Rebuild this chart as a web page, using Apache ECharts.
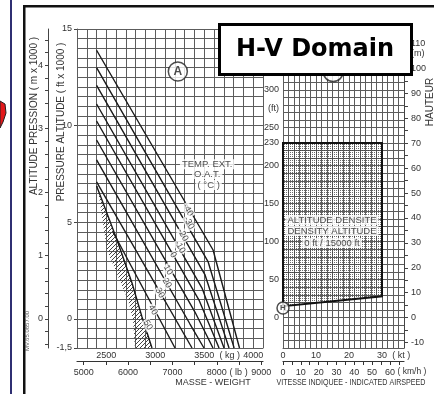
<!DOCTYPE html>
<html>
<head>
<meta charset="utf-8">
<title>H-V Domain</title>
<script src="https://cdn.jsdelivr.net/npm/echarts@6.0.0/dist/echarts.min.js"></script>
<style>
  html, body { margin: 0; padding: 0; background: #fff; }
  #chart { width: 434px; height: 394px; }
</style>
</head>
<body>
<div id="chart"></div>
<script>
// --- chart A : mass (kg) / pressure altitude (ft x 1000), one line per OAT ---
const kgLabels = [2500, 3000, 3500, 4000]
const lbLabels = [5000, 6000, 7000, 8000, 9000]
const lbTicks = [5000, 5500, 6000, 6500, 7000, 7500, 8000, 8500, 9000]
const ftLabelsA = [-1.5, 0, 5, 10, 15]
const mLabelsA = [0, 1, 2, 3, 4]
const mTicksA = [-0.4, -0.2, 0, 0.2, 0.4, 0.6, 0.8, 1, 1.2, 1.4, 1.6, 1.8, 2, 2.2, 2.4, 2.6, 2.8, 3, 3.2, 3.4, 3.6, 3.8, 4, 4.2, 4.4]

const oatNames = ['-40', '-30', '-20', '-10', '0', '10', '20', '30', '40', '50']
const oatM40 = [[2400, 13.9], [3590, 3.57], [3860, -1.5]]
const oatM30 = [[2400, 13.0], [3540, 2.95], [3805, -1.5]]
const oatM20 = [[2400, 12.08], [3508, 2.28], [3753, -1.5]]
const oatM10 = [[2400, 11.12], [3477, 1.6], [3702, -1.5]]
const oat0 = [[2400, 10.24], [3446, 0.98], [3651, -1.5]]
const oat10 = [[2400, 9.26], [3405, 0.36], [3589, -1.5]]
const oat20 = [[2400, 8.23], [3354, -0.26], [3497, -1.5]]
const oat30 = [[2400, 7.09], [3375, -1.5]]
const oat40 = [[2568, 4.5], [3201, -1.5]]
const oat50 = [[2400, 6.88], [2455, 6.16], [2609, 4.09], [2762, 1.86], [2864, 0.1], [2966, -1.5]]
const oatLines = [oatM40, oatM30, oatM20, oatM10, oat0, oat10, oat20, oat30, oat40, oat50]
const oatLabelPos = [[3334, 5.64], [3344, 4.97], [3283, 4.35], [3252, 3.73], [3181, 3.31],
  [3130, 2.54], [3119, 1.86], [3048, 1.35], [2976, 0.47], [2925, -0.31]]
const hatchLeft = [[2400, 7.19], [2506, 3.57], [2721, 0.98], [2772, -0.05], [2792, -1.5]]

const tempText = ['TEMP. EXT.', 'O.A.T.', '( °C )']
const tempPos = [[3530, 8.0], [3530, 7.5], [3545, 6.93]]
const circleA = [3230, 12.8]

// --- chart B : height-velocity diagram ---
const ktLabels = [0, 10, 20, 30]
const kmhLabels = [0, 10, 20, 30, 40, 50, 60]
const kmhTicks = [0, 5, 10, 15, 20, 25, 30, 35, 40, 45, 50, 55, 60, 65]
const ftLabelsB = [0, 50, 100, 150, 200, 230, 250, 300]
const mLabelsB = [-10, 0, 10, 20, 30, 40, 50, 60, 70, 80, 90, 100, 110]
const mTicksB = [-10, -5, 0, 5, 10, 15, 20, 25, 30, 35, 40, 45, 50, 55, 60, 65, 70, 75, 80, 85, 90, 95, 100, 105, 110, 115]
const hvBox = [[0, 230], [30, 230], [30, 28], [0, 15]]
const circleH = [0, 12.6]
const circleB = [15.2, 324]
const densityText = ['ALTITUDE DENSITE', 'DENSITY ALTITUDE', '0 ft / 15000 ft']
const densityPos = [[14.85, 128.4], [14.85, 114], [14.85, 98.2]]

const FONT = 'Liberation Sans, Arial, sans-serif'
const GRID_COLOR = '#5c5c5c'
const TXT = '#333'
const KG_TO_LB = 2.20462
const M_PER_FT = 0.3048
const KT_TO_KMH = 1.852

function hatchPattern() {
  const c = document.createElement('canvas')
  c.width = 4
  c.height = 4
  const ctx = c.getContext('2d')
  ctx.strokeStyle = '#444'
  ctx.lineWidth = 1
  ctx.beginPath()
  ctx.moveTo(0, 4); ctx.lineTo(4, 0)
  ctx.moveTo(-1, 1); ctx.lineTo(1, -1)
  ctx.moveTo(3, 5); ctx.lineTo(5, 3)
  ctx.stroke()
  return c
}

function dotPattern() {
  const c = document.createElement('canvas')
  c.width = 2
  c.height = 2
  const ctx = c.getContext('2d')
  ctx.fillStyle = 'rgba(60,60,60,0.75)'
  ctx.fillRect(0, 0, 1, 1)
  return c
}

function polygonItem(points, fill, stroke, lw) {
  return function (params, api) {
    return {
      type: 'polygon',
      shape: { points: points.map(p => api.coord(p)) },
      style: { fill: fill, stroke: stroke, lineWidth: lw }
    }
  }
}

function textLabels(names, pos, xi, yi, extra) {
  return {
    type: 'scatter', xAxisIndex: xi, yAxisIndex: yi, silent: true, z: 6,
    symbolSize: 1, itemStyle: { color: 'rgba(0,0,0,0)' },
    data: names.map((n, i) => ({ name: n, value: pos[i] })),
    label: Object.assign({
      show: true, position: 'inside', formatter: '{b}', fontSize: 9,
      fontFamily: FONT, color: '#222', backgroundColor: '#fff'
    }, extra)
  }
}

function circleMark(xi, yi, pt, size, txt, fs) {
  return {
    type: 'scatter', xAxisIndex: xi, yAxisIndex: yi, silent: true, z: 5,
    symbol: 'circle', symbolSize: size,
    itemStyle: { color: '#fff', borderColor: '#222', borderWidth: 1.5 },
    data: [pt],
    label: { show: true, position: 'inside', formatter: txt, fontSize: fs, fontWeight: 'bold', color: '#222', fontFamily: FONT }
  }
}

const chart = echarts.init(document.getElementById('chart'))
const hatch = { image: hatchPattern(), repeat: 'repeat' }
const dots = { image: dotPattern(), repeat: 'repeat' }
const lbl = { color: TXT, fontSize: 9, fontFamily: FONT }

const option = {
  animation: false,
  backgroundColor: '#fff',
  grid: [
    { left: 77, top: 29, width: 186, height: 319, outerBoundsMode: 'none' },
    { left: 283, top: 29, width: 121, height: 319, outerBoundsMode: 'none' }
  ],
  xAxis: [
    {
      type: 'value', gridIndex: 0, position: 'bottom', min: 2200, max: 4100, interval: 100,
      axisLine: { onZero: false, lineStyle: { color: GRID_COLOR } },
      axisTick: { show: false },
      splitLine: { show: true, lineStyle: { color: GRID_COLOR, width: 1 } },
      axisLabel: Object.assign({ margin: 3, customValues: kgLabels.concat([3760]),
        formatter: v => v === 3760 ? '( kg )' : String(v) }, lbl)
    },
    {
      type: 'value', gridIndex: 0, position: 'bottom', offset: 13,
      min: 2200 * KG_TO_LB, max: 4100 * KG_TO_LB,
      axisLine: { onZero: false, lineStyle: { color: '#333', width: 1.2 } },
      axisTick: { show: true, customValues: lbTicks, length: 4, lineStyle: { color: '#333' } },
      splitLine: { show: false },
      axisLabel: Object.assign({ margin: 7, customValues: lbLabels.concat([8490]),
        formatter: v => v === 8490 ? '( lb )' : String(v) }, lbl)
    },
    {
      type: 'value', gridIndex: 1, position: 'bottom', min: 0, max: 110 / 3, interval: 10 / 6,
      axisLine: { onZero: false, lineStyle: { color: GRID_COLOR } },
      axisTick: { show: false },
      splitLine: { show: true, lineStyle: { color: GRID_COLOR, width: 1 } },
      axisLabel: Object.assign({ margin: 3, customValues: ktLabels.concat([35.8]),
        formatter: v => v === 35.8 ? '( kt )' : String(v) }, lbl)
    },
    {
      type: 'value', gridIndex: 1, position: 'bottom', offset: 13,
      min: 0, max: 110 / 3 * KT_TO_KMH,
      axisLine: { onZero: false, lineStyle: { color: '#333', width: 1.2 } },
      axisTick: { show: true, customValues: kmhTicks, length: 4, lineStyle: { color: '#333' } },
      splitLine: { show: false },
      axisLabel: Object.assign({ margin: 7, customValues: kmhLabels }, lbl)
    }
  ],
  yAxis: [
    {
      type: 'value', gridIndex: 0, position: 'left', min: -1.5, max: 15, interval: 0.5,
      axisLine: { onZero: false, lineStyle: { color: GRID_COLOR } },
      axisTick: { show: false },
      splitLine: { show: true, lineStyle: { color: GRID_COLOR, width: 1 } },
      axisLabel: Object.assign({ margin: 5, customValues: ftLabelsA,
        formatter: v => v === -1.5 ? '-1,5' : String(v) }, lbl)
    },
    {
      type: 'value', gridIndex: 0, position: 'left', offset: 29,
      min: -1.5 * M_PER_FT, max: 15 * M_PER_FT,
      axisLine: { onZero: false, lineStyle: { color: '#444', width: 1 } },
      axisTick: { show: true, customValues: mTicksA, length: 3, lineStyle: { color: '#444' } },
      splitLine: { show: false },
      axisLabel: Object.assign({ margin: 5, customValues: mLabelsA }, lbl)
    },
    {
      type: 'value', gridIndex: 1, position: 'left', min: -40, max: 380, interval: 10,
      axisLine: { onZero: false, lineStyle: { color: GRID_COLOR } },
      axisTick: { show: false },
      splitLine: { show: true, lineStyle: { color: GRID_COLOR, width: 1 } },
      axisLabel: Object.assign({ margin: 4, customValues: ftLabelsB.concat([275]),
        formatter: v => v === 275 ? '(ft)' : String(v) }, lbl)
    },
    {
      type: 'value', gridIndex: 1, position: 'right',
      min: -40 * M_PER_FT, max: 380 * M_PER_FT,
      axisLine: { onZero: false, lineStyle: { color: '#444', width: 1 } },
      axisTick: { show: true, customValues: mTicksB, length: 4, lineStyle: { color: '#444' } },
      splitLine: { show: false },
      axisLabel: Object.assign({ margin: 7, customValues: mLabelsB.concat([106]),
        formatter: v => v === 106 ? '(m)' : String(v) }, lbl)
    },
    {
      type: 'value', gridIndex: 0, position: 'left', min: -1.5, max: 15,
      axisLine: { show: false, onZero: false },
      axisTick: { show: true, customValues: ftLabelsA, length: 3, lineStyle: { color: '#444' } },
      axisLabel: { show: false },
      splitLine: { show: false }
    }
  ],
  series: [
    {
      type: 'custom', xAxisIndex: 0, yAxisIndex: 0, silent: true, z: 2,
      data: [hatchLeft[0]],
      renderItem: polygonItem(hatchLeft.concat(oat50.slice().reverse()), hatch, 'none', 0)
    },
    ...oatLines.map((d, i) => ({
      type: 'line', name: oatNames[i], xAxisIndex: 0, yAxisIndex: 0, silent: true, z: 3,
      data: d, symbol: 'none', lineStyle: { color: '#1a1a1a', width: 1.4 }
    })),
    textLabels(oatNames, oatLabelPos, 0, 0, { rotate: -60, padding: [0, 1] }),
    textLabels(tempText, tempPos, 0, 0, { fontSize: 9.5, padding: [0, 2] }),
    circleMark(0, 0, circleA, 19, 'A', 12),
    {
      type: 'custom', xAxisIndex: 2, yAxisIndex: 2, silent: true, z: 2,
      data: [hvBox[0]],
      renderItem: polygonItem(hvBox, dots, '#111', 2)
    },
    circleMark(2, 2, circleH, 12, 'H', 8),
    circleMark(2, 2, circleB, 20, 'B', 12),
    textLabels(densityText, densityPos, 2, 2, { fontSize: 9.5, padding: [0, 2] })
  ],
  graphic: [
    { type: 'rect', shape: { x: 10, y: 0, width: 2, height: 394 }, style: { fill: '#2f2f72' } },
    { type: 'polygon', shape: { points: [[0, 101], [5, 104], [6, 113], [3, 122], [0, 128]] },
      style: { fill: '#e3191b', stroke: '#222', lineWidth: 1 } },
    { type: 'rect', shape: { x: 23, y: 5, width: 2.5, height: 389 }, style: { fill: '#111' } },
    { type: 'rect', shape: { x: 23, y: 5, width: 411, height: 2.5 }, style: { fill: '#111' } },
    { type: 'text', x: 27, y: 331, rotation: Math.PI / 2,
      style: { text: 'MV.65.0857.00', font: '6px Liberation Sans', fill: '#555', align: 'center', verticalAlign: 'middle', textAlign: 'center', textVerticalAlign: 'middle' } },
    { type: 'text', x: 34, y: 116, rotation: Math.PI / 2,
      style: { text: 'ALTITUDE PRESSION ( m x 1000 )', font: '10px Liberation Sans', fill: TXT, align: 'center', verticalAlign: 'middle', textAlign: 'center', textVerticalAlign: 'middle' } },
    { type: 'text', x: 61, y: 122, rotation: Math.PI / 2,
      style: { text: 'PRESSURE ALTITUDE ( ft x 1000 )', font: '10px Liberation Sans', fill: TXT, align: 'center', verticalAlign: 'middle', textAlign: 'center', textVerticalAlign: 'middle' } },
    { type: 'text', x: 213, y: 383,
      style: { text: 'MASSE - WEIGHT', font: '9px Liberation Sans', fill: TXT, align: 'center', verticalAlign: 'middle', textAlign: 'center', textVerticalAlign: 'middle' } },
    { type: 'text', x: 351, y: 383, scaleX: 0.84,
      style: { text: 'VITESSE INDIQUEE - INDICATED AIRSPEED', font: '8.5px Liberation Sans', fill: TXT, align: 'center', verticalAlign: 'middle', textAlign: 'center', textVerticalAlign: 'middle' } },
    { type: 'text', x: 412, y: 372,
      style: { text: '( km/h )', font: '8.5px Liberation Sans', fill: TXT, align: 'center', verticalAlign: 'middle', textAlign: 'center', textVerticalAlign: 'middle' } },
    { type: 'text', x: 430, y: 102, rotation: Math.PI / 2,
      style: { text: 'HAUTEUR', font: '10px Liberation Sans', fill: TXT, align: 'center', verticalAlign: 'middle', textAlign: 'center', textVerticalAlign: 'middle' } },
    { type: 'rect', z: 100, shape: { x: 219.5, y: 24.5, width: 192, height: 50 },
      style: { fill: '#fff', stroke: '#000', lineWidth: 3 } },
    { type: 'text', z: 101, x: 315, y: 50,
      style: { text: 'H-V Domain', font: 'bold 24px DejaVu Sans', fill: '#000', align: 'center', verticalAlign: 'middle', textAlign: 'center', textVerticalAlign: 'middle' } }
  ]
}

chart.setOption(option)
</script>
</body>
</html>
